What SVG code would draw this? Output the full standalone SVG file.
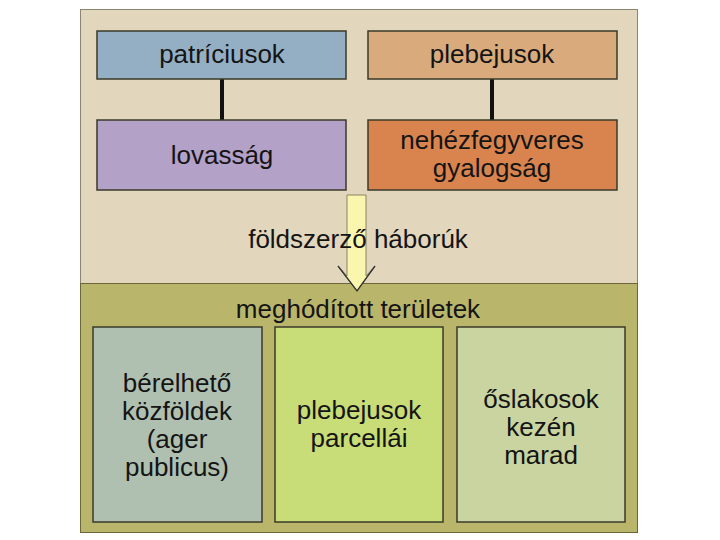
<svg xmlns="http://www.w3.org/2000/svg" width="720" height="540" viewBox="0 0 720 540">
<style>
.t{font-family:"Liberation Sans",Arial,sans-serif;font-size:26px;fill:#141414;text-anchor:middle}
.box{stroke:#3a3a2a;stroke-width:1.5}
.conn{stroke:#111;stroke-width:4;fill:none}
</style>
<rect x="0" y="0" width="720" height="540" fill="#ffffff"/>
<g id="panel">
<rect x="80.5" y="9.5" width="557" height="274" fill="#e2d6bc" stroke="#8a8470" stroke-width="1"/>
<rect x="80.5" y="283.5" width="557" height="249" fill="#b9b66c" stroke="#6a6838" stroke-width="1"/>
</g>
<g id="connectors">
<line class="conn" x1="222" y1="79" x2="222" y2="120"/>
<line class="conn" x1="492" y1="79" x2="492" y2="120"/>
<polygon points="347,195 347,276 338,266 357,291 375,266 366,276 366,195" fill="#fbf6ae" stroke="#8a8460" stroke-width="1"/>
<polyline points="338,266 357,291 375,266" fill="none" stroke="#333" stroke-width="1.3"/>
</g>
<text class="t" x="358" y="248">földszerző háborúk</text>
<text class="t" x="358" y="318">meghódított területek</text>
<g id="patriciusok">
<rect class="box" x="97" y="31" width="249" height="48" fill="#94afc3"/>
<text class="t" x="222" y="63">patríciusok</text>
</g>
<g id="plebejusok">
<rect class="box" x="368" y="31" width="249" height="48" fill="#d9aa7c"/>
<text class="t" x="492" y="63">plebejusok</text>
</g>
<g id="lovassag">
<rect class="box" x="97" y="120" width="249" height="70" fill="#b4a1c7"/>
<text class="t" x="222" y="164">lovasság</text>
</g>
<g id="nehezfegyveres">
<rect class="box" x="368" y="120" width="249" height="70" fill="#d9844f"/>
<text class="t" x="492" y="149">nehézfegyveres</text>
<text class="t" x="492" y="177">gyalogság</text>
</g>
<g id="kozfoldek">
<rect class="box" x="93" y="327" width="169" height="195" fill="#afc0b0"/>
<text class="t" x="177" y="392">bérelhető</text>
<text class="t" x="177" y="420">közföldek</text>
<text class="t" x="177" y="448">(ager</text>
<text class="t" x="177" y="476">publicus)</text>
</g>
<g id="parcellai">
<rect class="box" x="275" y="327" width="168" height="195" fill="#c8dc78"/>
<text class="t" x="359" y="419">plebejusok</text>
<text class="t" x="359" y="447">parcellái</text>
</g>
<g id="oslakosok">
<rect class="box" x="457" y="327" width="168" height="195" fill="#c9d4a0"/>
<text class="t" x="541" y="408">őslakosok</text>
<text class="t" x="541" y="436">kezén</text>
<text class="t" x="541" y="464">marad</text>
</g>
</svg>
